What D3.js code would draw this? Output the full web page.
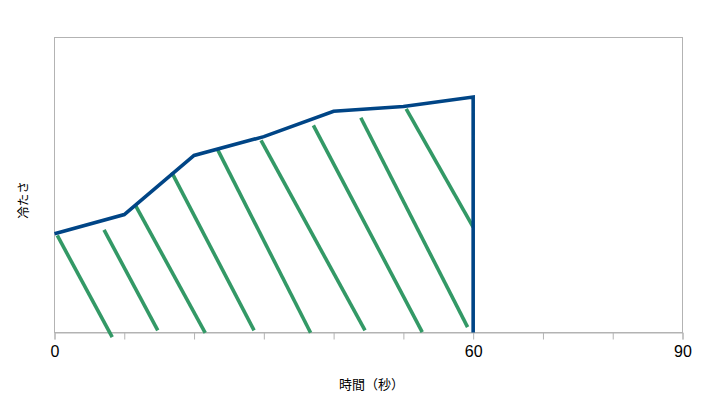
<!DOCTYPE html>
<html>
<head>
<meta charset="utf-8">
<script src="https://cdn.jsdelivr.net/npm/d3@7/dist/d3.min.js"></script>
<style>
  html, body { margin: 0; padding: 0; background: #fff; }
  svg { display: block; }
</style>
</head>
<body>
<svg id="chart" width="717" height="412"></svg>
<script>
// ---- data ----
const timeValues = [0, 10, 20, 30, 40, 50, 60, 60];
const coldValues = [33.5, 40, 60, 66.4, 75, 76.6, 79.8, 0];
const tickValues = [0, 10, 20, 30, 40, 50, 60, 70, 80, 90];
const tickLabels = ["0", "", "", "", "", "", "60", "", "", "90"];
// hatch strokes (start time, start value, end time, end value)
const hatchX0 = [0.4, 7.1, 11.6, 16.8, 23.4, 29.6, 37.1, 43.9, 50.4];
const hatchY0 = [32.9, 34.8, 43.1, 54.3, 61.9, 65.1, 70.2, 72.8, 75.8];
const hatchX1 = [8.27, 14.8, 21.6, 28.6, 36.7, 44.5, 52.7, 59.2, 60.0];
const hatchY1 = [-1.6, 0.7, -0.1, 0.7, -0.1, 0.7, 0.1, 1.8, 35.7];
const xTitle = "時間（秒）";
const yTitle = "冷たさ";

// ---- layout ----
const svg = d3.select("#chart");
const L = 54.5, R = 682.5, T = 37.5, B = 332.5;
const x = d3.scaleLinear().domain([0, 90]).range([L, R]);
const y = d3.scaleLinear().domain([0, 100]).range([B, T]);
const frameColor = "#b3b3b3";

// frame
svg.append("rect")
  .attr("x", L).attr("y", T)
  .attr("width", R - L).attr("height", B - T)
  .attr("fill", "none").attr("stroke", frameColor).attr("stroke-width", 1);

// x axis
const xAxis = d3.axisBottom(x)
  .tickValues(tickValues)
  .tickSize(7)
  .tickPadding(6)
  .tickFormat((d, i) => tickLabels[i]);
const gx = svg.append("g").attr("transform", `translate(0,${B})`).call(xAxis);
gx.select(".domain").attr("stroke", frameColor);
gx.selectAll(".tick line").attr("stroke", frameColor);
gx.selectAll(".tick text")
  .attr("fill", "#000")
  .attr("font-family", "'Liberation Sans', Arial, sans-serif")
  .attr("font-size", 16);

// hatch lines
const hatch = hatchX0.map((d, i) => ({x0: d, y0: hatchY0[i], x1: hatchX1[i], y1: hatchY1[i]}));
svg.append("g").selectAll("line").data(hatch).join("line")
  .attr("x1", d => x(d.x0)).attr("y1", d => y(d.y0))
  .attr("x2", d => x(d.x1)).attr("y2", d => y(d.y1))
  .attr("stroke", "#339966").attr("stroke-width", 3.6);

// main line
const pts = timeValues.map((t, i) => [t, coldValues[i]]);
svg.append("path")
  .datum(pts)
  .attr("d", d3.line().x(d => x(d[0])).y(d => y(d[1])))
  .attr("fill", "none")
  .attr("stroke", "#004586")
  .attr("stroke-width", 3.6)
  .attr("stroke-linejoin", "miter");

// titles
svg.append("text")
  .attr("x", (L + R) / 2 + 3).attr("y", 388.5)
  .attr("text-anchor", "middle")
  .attr("font-family", "'Noto Sans CJK JP', sans-serif")
  .attr("font-size", 13)
  .attr("fill", "#000")
  .text(xTitle);

svg.append("text")
  .attr("transform", "translate(28,200) rotate(-90)")
  .attr("text-anchor", "middle")
  .attr("font-family", "'Noto Sans CJK JP', sans-serif")
  .attr("font-size", 12.5)
  .attr("fill", "#000")
  .text(yTitle);
</script>
</body>
</html>
